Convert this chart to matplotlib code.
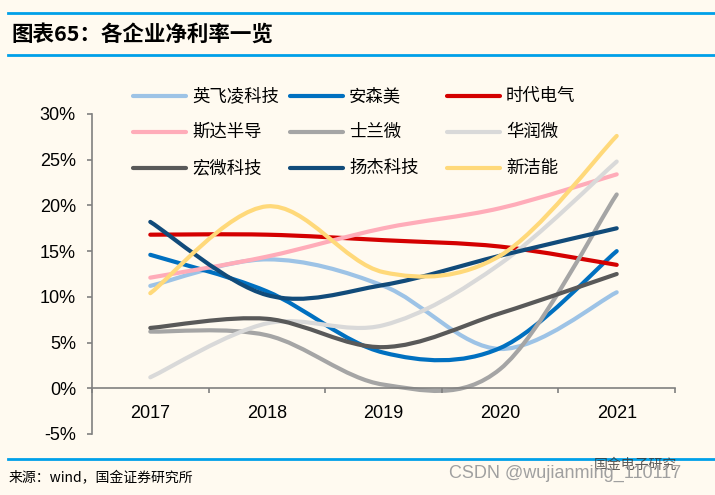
import matplotlib
matplotlib.use("Agg")
from matplotlib import pyplot as plt
from matplotlib.path import Path
from matplotlib.patches import PathPatch
from matplotlib.lines import Line2D
from matplotlib.ticker import FixedLocator, FuncFormatter

plt.rcParams['font.family'] = ['Liberation Sans', 'Noto Sans CJK SC', 'DejaVu Sans']
cjk = ['Noto Sans CJK SC', 'DejaVu Sans']

years = ['2017', '2018', '2019', '2020', '2021']
names = ['英飞凌科技', '安森美', '时代电气',
         '斯达半导', '士兰微', '华润微',
         '宏微科技', '扬杰科技', '新洁能']
colors = ['#9DC3E6', '#0070C0', '#D40000',
          '#FFACB9', '#A5A5A5', '#D9D9D9',
          '#595959', '#114B7A', '#FFD97A']

# 净利率 (%)
infineon = [11.2, 14.1, 11.2, 4.3, 10.5]
onsemi = [14.6, 10.6, 3.9, 4.4, 15.0]
crrc = [16.8, 16.8, 16.2, 15.5, 13.5]
starpower = [12.1, 14.4, 17.5, 19.7, 23.4]
silan = [6.2, 5.8, 0.4, 2.1, 21.2]
crmicro = [1.2, 7.1, 6.9, 13.6, 24.8]
macmic = [6.6, 7.6, 4.5, 8.2, 12.5]
yangjie = [18.2, 10.2, 11.3, 14.5, 17.5]
ncepower = [10.4, 19.9, 12.7, 14.5, 27.6]
series = [infineon, onsemi, crrc, starpower, silan, crmicro, macmic, yangjie, ncepower]

W, H = 715, 495
bg = '#FFFAF0'
fig = plt.figure(figsize=(W / 100, H / 100), dpi=100, facecolor=bg)
ax = fig.add_axes([92 / W, 1 - 434 / H, (675 - 92) / W, (434 - 114) / H])
ax.set_facecolor(bg)


def smooth_path(xs, ys):
    # excel style smoothed line: cubic bezier through every point
    n = len(xs)
    verts = [(xs[0], ys[0])]
    codes = [Path.MOVETO]
    for i in range(n - 1):
        a = max(i - 1, 0)
        b = min(i + 2, n - 1)
        c1 = (xs[i] + (xs[i + 1] - xs[a]) / 6, ys[i] + (ys[i + 1] - ys[a]) / 6)
        c2 = (xs[i + 1] - (xs[b] - xs[i]) / 6, ys[i + 1] - (ys[b] - ys[i]) / 6)
        verts += [c1, c2, (xs[i + 1], ys[i + 1])]
        codes += [Path.CURVE4] * 3
    return Path(verts, codes)


xs = list(range(1, len(years) + 1))
for vals, col in zip(series, colors):
    ax.add_patch(PathPatch(smooth_path(xs, vals), fill=False, edgecolor=col,
                           lw=3, capstyle='round', joinstyle='round'))

ax.set_xlim(0.5, len(years) + 0.5)
ax.set_ylim(-5, 30)
for s in ['top', 'right']:
    ax.spines[s].set_visible(False)
ax.spines['bottom'].set_position(('data', 0))
ax.spines['left'].set_color('#808080')
ax.spines['bottom'].set_color('#808080')
ax.spines['left'].set_linewidth(1.2)
ax.spines['bottom'].set_linewidth(1.2)

ax.set_yticks(range(-5, 31, 5))
ax.yaxis.set_major_formatter(FuncFormatter(lambda v, p: '%d%%' % v))
ax.tick_params(axis='y', direction='out', length=3.6, width=1.2, color='#808080',
               pad=8, labelsize=13)
ax.set_xticks(xs)
ax.set_xticklabels(years)
ax.xaxis.set_minor_locator(FixedLocator([x + 0.5 for x in range(len(years) + 1)]))
ax.tick_params(axis='x', which='major', length=0, pad=12, labelsize=13)
ax.tick_params(axis='x', which='minor', direction='out', length=3.6, width=1.2,
               color='#808080')

# legend
for i, (name, col) in enumerate(zip(names, colors)):
    r, c = divmod(i, 3)
    x0 = 133 + c * 157
    y0 = 96 + r * 36
    fig.add_artist(Line2D([x0 / W, (x0 + 53) / W], [1 - y0 / H, 1 - y0 / H],
                          color=col, lw=3, solid_capstyle='round'))
    fig.text((x0 + 59) / W, 1 - y0 / H, name, family=cjk, fontsize=12.5,
             va='center', ha='left')

# title and frame lines
blue = '#00A0E9'
for yy in [13, 55, 459]:
    fig.add_artist(Line2D([8 / W, 1], [1 - yy / H, 1 - yy / H], color=blue, lw=2))
fig.text(11 / W, 1 - 34 / H, '图表65：各企业净利率一览', family=cjk, fontsize=15.5,
         fontweight='bold', va='center', ha='left')
fig.text(9 / W, 1 - 478 / H, '来源：wind，国金证券研究所', family=cjk, fontsize=10,
         va='center', ha='left')
fig.text(594 / W, 1 - 465 / H, '国金电子研究', family=cjk, fontsize=10,
         va='center', ha='left', color='#333333', alpha=0.8)
fig.text(449 / W, 1 - 473 / H, 'CSDN @wujianming_110117', fontsize=13,
         va='center', ha='left', color='#A0A0A0')

fig.savefig('out.png', dpi=100, facecolor=bg)
